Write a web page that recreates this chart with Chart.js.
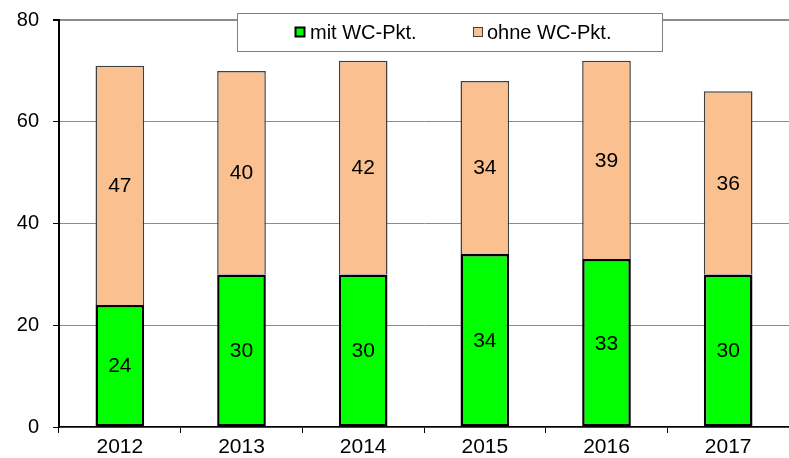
<!DOCTYPE html>
<html>
<head>
<meta charset="utf-8">
<script src="https://cdn.jsdelivr.net/npm/chart.js@4/dist/chart.umd.min.js"></script>
<style>
html,body{margin:0;padding:0;background:#fff;}
#wrap{position:relative;width:789px;height:458px;}
</style>
</head>
<body>
<div id="wrap"><canvas id="c" width="789" height="458"></canvas></div>
<script>
const categories = ['2012','2013','2014','2015','2016','2017'];
const mitWC = [24, 30, 30, 34, 33, 30];
const ohneWC = [47, 40, 42, 34, 39, 36];
const seriesNames = ['mit WC-Pkt.', 'ohne WC-Pkt.'];
const yTicks = [0, 20, 40, 60, 80];

const FONT = 'Liberation Sans, Arial, sans-serif';

const valueLabels = {
  id: 'valueLabels',
  afterDatasetsDraw(chart) {
    const ctx = chart.ctx;
    ctx.save();
    ctx.font = '21px ' + FONT;
    ctx.fillStyle = '#000';
    ctx.textAlign = 'center';
    ctx.textBaseline = 'middle';
    chart.data.datasets.forEach((ds, i) => {
      const meta = chart.getDatasetMeta(i);
      meta.data.forEach((bar, j) => {
        const y = (bar.y + bar.base) / 2;
        ctx.fillText(String(ds.data[j]), bar.x, y + 1);
      });
    });
    ctx.restore();
  }
};

const boxLegend = {
  id: 'boxLegend',
  afterDraw(chart) {
    const ctx = chart.ctx;
    ctx.save();
    const x0 = 237.5, y0 = 13.5, w = 425, h = 38;
    ctx.fillStyle = '#fff';
    ctx.fillRect(x0, y0, w, h);
    ctx.strokeStyle = '#808080';
    ctx.lineWidth = 1;
    ctx.strokeRect(x0, y0, w, h);
    const items = [
      {sx: 295.5, tx: 310, ds: 0},
      {sx: 473.5, tx: 487, ds: 1}
    ];
    ctx.font = '20px ' + FONT;
    ctx.textBaseline = 'middle';
    ctx.textAlign = 'left';
    items.forEach(it => {
      const ds = chart.data.datasets[it.ds];
      ctx.fillStyle = ds.backgroundColor;
      ctx.fillRect(it.sx, 27.5, 9, 9);
      ctx.strokeStyle = it.ds === 0 ? '#000' : '#404040';
      ctx.lineWidth = it.ds === 0 ? 2 : 1;
      ctx.strokeRect(it.sx, 27.5, 9, 9);
      ctx.fillStyle = '#000';
      ctx.fillText(ds.label, it.tx, 33);
    });
    ctx.restore();
  }
};

new Chart(document.getElementById('c'), {
  type: 'bar',
  data: {
    labels: categories,
    datasets: [
      {
        label: seriesNames[0],
        data: mitWC,
        backgroundColor: '#00ff00',
        borderColor: '#000000',
        borderWidth: 2.5,
        borderSkipped: false,
        barPercentage: 0.4,
        categoryPercentage: 1.0
      },
      {
        label: seriesNames[1],
        data: ohneWC,
        backgroundColor: '#fac090',
        borderColor: '#404040',
        borderWidth: { top: 1.5, left: 1.5, right: 1.5, bottom: 0 },
        borderSkipped: false,
        barPercentage: 0.4,
        categoryPercentage: 1.0
      }
    ]
  },
  options: {
    responsive: false,
    animation: false,
    layout: { padding: { top: 20, right: -2, left: 0, bottom: 0 } },
    plugins: {
      legend: { display: false },
      tooltip: { enabled: false }
    },
    scales: {
      x: {
        stacked: true,
        offset: true,
        grid: {
          offset: true,
          drawOnChartArea: false,
          drawTicks: true,
          tickLength: 6,
          tickColor: '#000'
        },
        border: { display: true, color: '#000', width: 1.5 },
        ticks: {
          color: '#000',
          font: { family: FONT, size: 21 },
          padding: 2
        },
        afterFit(scale) { scale.height = 31; }
      },
      y: {
        stacked: true,
        min: 0,
        max: 80,
        afterBuildTicks(scale) { scale.ticks = yTicks.map(v => ({ value: v })); },
        grid: {
          color: '#8c8c8c',
          lineWidth: ctx => (ctx.tick && ctx.tick.value === 80 ? 2 : 1),
          drawTicks: true,
          tickLength: 6,
          tickColor: '#000'
        },
        border: { display: true, color: '#000', width: 2 },
        ticks: {
          color: '#000',
          font: { family: FONT, size: 20, lineHeight: 0.3 },
          padding: 14
        },
        afterFit(scale) { scale.width = 59; }
      }
    }
  },
  plugins: [valueLabels, boxLegend]
});
</script>
</body>
</html>
